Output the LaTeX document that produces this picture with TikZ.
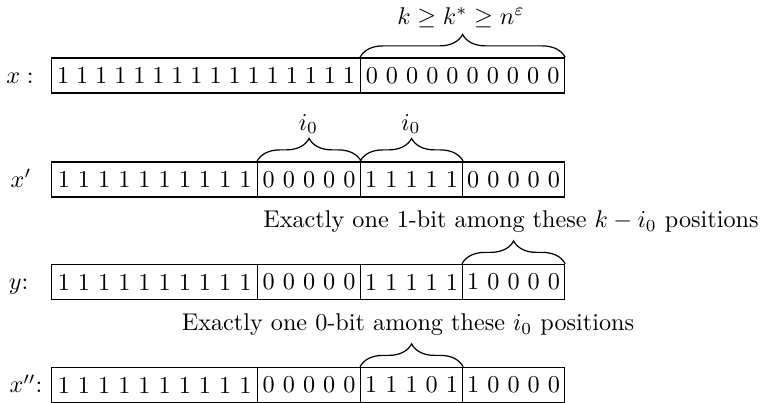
\documentclass[tikz,border=0pt]{standalone}
\usetikzlibrary{decorations.pathreplacing}
\def\pxu{0.413pt}
\begin{document}
\begin{tikzpicture}[x=0.413pt,y=-0.413pt,
  seg/.style={draw, line width=0.5pt, inner sep=0pt, minimum height=35*\pxu, anchor=west},
  brc/.style={decorate, decoration={brace, amplitude=23*\pxu}, line width=0.5pt},
  lbl/.style={inner sep=0pt},
  rowlbl/.style={inner sep=0pt, anchor=base}]
\useasboundingbox (0,0) rectangle (762,403);
% row 1
\node[seg, minimum width=309*\pxu] (a1) at (51,75.5) {\makebox[123.07pt][s]{1 1 1 1 1 1 1 1 1 1 1 1 1 1 1 1}};
\node[seg, minimum width=204*\pxu] (a2) at (360,75.5) {0 0 0 0 0 0 0 0 0 0};
\node[rowlbl] (la) at (20,83.3) {$x:$};
\draw[brc] (a2.north west) -- (a2.north east);
\node[lbl] (ta) at (461,18) {$k \geq k^* \geq n^\varepsilon$};
% row 2
\node[seg, minimum width=206*\pxu] (b1) at (51,179.5) {1 1 1 1 1 1 1 1 1 1};
\node[seg, minimum width=103*\pxu] (b2) at (257,179.5) {0 0 0 0 0};
\node[seg, minimum width=102*\pxu] (b3) at (360,179.5) {1 1 1 1 1};
\node[seg, minimum width=102*\pxu] (b4) at (462,179.5) {0 0 0 0 0};
\node[rowlbl] (lb) at (21,187.3) {$x'$};
\draw[brc] (b2.north west) -- (b2.north east);
\draw[brc] (b3.north west) -- (b3.north east);
\node[lbl] (tb1) at (308.5,124) {$i_0$};
\node[lbl] (tb2) at (411,124) {$i_0$};
% row 3
\node[seg, minimum width=206*\pxu] (c1) at (51,282) {1 1 1 1 1 1 1 1 1 1};
\node[seg, minimum width=103*\pxu] (c2) at (257,282) {0 0 0 0 0};
\node[seg, minimum width=102*\pxu] (c3) at (360,282) {1 1 1 1 1};
\node[seg, minimum width=102*\pxu] (c4) at (462,282) {1 0 0 0 0};
\node[rowlbl] (lc) at (18.5,289.8) {$y$:};
\draw[brc] (c4.north west) -- (c4.north east);
\node[lbl] (tc) at (511,222) {Exactly one 1-bit among these $k-i_0$ positions};
% row 4
\node[seg, minimum width=206*\pxu] (d1) at (51,385) {1 1 1 1 1 1 1 1 1 1};
\node[seg, minimum width=103*\pxu] (d2) at (257,385) {0 0 0 0 0};
\node[seg, minimum width=102*\pxu] (d3) at (360,385) {1 1 1 0 1};
\node[seg, minimum width=102*\pxu] (d4) at (462,385) {1 0 0 0 0};
\node[rowlbl] (ld) at (26,392.8) {$x''$:};
\draw[brc] (d3.north west) -- (d3.north east);
\node[lbl] (td) at (408,325) {Exactly one 0-bit among these $i_0$ positions};
\end{tikzpicture}
\end{document}
